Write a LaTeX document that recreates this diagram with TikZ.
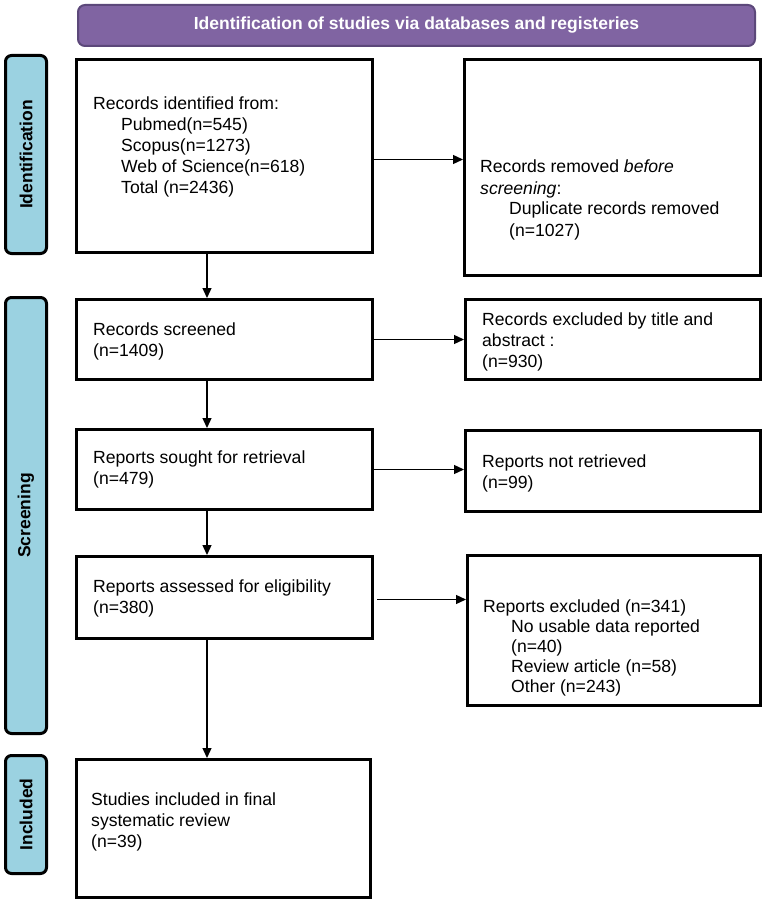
\documentclass[tikz,border=0pt]{standalone}
\usepackage{fontspec}
\setmainfont{Liberation Sans}
\usetikzlibrary{arrows.meta}
\definecolor{bannerfill}{RGB}{128,100,162}
\definecolor{bannerdraw}{RGB}{92,72,122}
\definecolor{sidefill}{RGB}{155,210,225}
\begin{document}
\begin{tikzpicture}[x=1pt,y=-1pt,
  box/.style={draw=black, line width=3pt, fill=white, inner sep=0pt, anchor=north west},
  side/.style={draw=black, line width=3pt, fill=sidefill, rounded corners=6pt, inner sep=0pt, anchor=north west, minimum width=41pt},
  sidetext/.style={rotate=90, font=\fontsize{17.5}{21}\selectfont\bfseries, text=black, inner sep=0pt},
  banner/.style={draw=bannerdraw, line width=2pt, fill=bannerfill, rounded corners=7pt, anchor=north west, text=white, font=\fontsize{17.5}{21}\selectfont\bfseries},
  txt/.style={anchor=base west, inner sep=0pt, font=\fontsize{17.6}{21}\selectfont},
  arr/.style={line width=1.3pt, -{Triangle[length=10pt,width=9pt]}}]
\fill[white] (0,0) rectangle (765,904);
% banner
\node[banner, minimum width=677pt, minimum height=41pt] (ban) at (77,4) {Identification of studies via databases and registeries};
% side labels
\node[side, minimum height=198pt] (sid) at (4,54) {};
\node[sidetext] (sidt) at (sid.center) {Identification};
\node[side, minimum height=436pt] (scr) at (4,296) {};
\node[sidetext] (scrt) at (scr.center) {Screening};
\node[side, minimum height=118pt] (inc) at (4,754) {};
\node[sidetext] (inct) at (inc.center) {Included};
% boxes
\node[box, minimum width=296pt, minimum height=193pt] (b1) at (75,58) {};
\node[box, minimum width=296pt, minimum height=216pt] (b2) at (463,58) {};
\node[box, minimum width=296pt, minimum height=80pt] (b3) at (75,298) {};
\node[box, minimum width=295pt, minimum height=80pt] (b4) at (464,298) {};
\node[box, minimum width=296pt, minimum height=80pt] (b5) at (75,428) {};
\node[box, minimum width=295pt, minimum height=81pt] (b6) at (464,429) {};
\node[box, minimum width=296pt, minimum height=82pt] (b7) at (75,555) {};
\node[box, minimum width=293pt, minimum height=150pt] (b8) at (466,554) {};
\node[box, minimum width=294pt, minimum height=138pt] (b9) at (75,758) {};
% texts
\node[txt] (t1) at (93,110) {\parbox[t]{270pt}{\raggedright Records identified from:\\
  \hspace*{28pt}Pubmed(n=545)\\
  \hspace*{28pt}Scopus(n=1273)\\
  \hspace*{28pt}Web of Science(n=618)\\
  \hspace*{28pt}Total (n=2436)}};
\node[txt] (t2) at (480,173) {\parbox[t]{270pt}{\raggedright Records removed \textit{before}\\
  \textit{screening}:\\
  \hspace*{29pt}Duplicate records removed\\
  \hspace*{29pt}(n=1027)}};
\node[txt] (t3) at (93,335) {\parbox[t]{270pt}{\raggedright Records screened\\(n=1409)}};
\node[txt] (t4) at (482,325) {\parbox[t]{270pt}{\raggedright Records excluded by title and\\abstract :\\(n=930)}};
\node[txt] (t5) at (93,463) {\parbox[t]{270pt}{\raggedright Reports sought for retrieval\\(n=479)}};
\node[txt] (t6) at (482,467) {\parbox[t]{270pt}{\raggedright Reports not retrieved\\(n=99)}};
\node[txt] (t7) at (93,592) {\parbox[t]{270pt}{\raggedright Reports assessed for eligibility\\(n=380)}};
\node[txt, font=\fontsize{17.6}{20}\selectfont] (t8) at (483,612) {\parbox[t]{270pt}{\raggedright Reports excluded (n=341)\\
  \hspace*{28pt}No usable data reported\\
  \hspace*{28pt}(n=40)\\
  \hspace*{28pt}Review article (n=58)\\
  \hspace*{28pt}Other (n=243)}};
\node[txt] (t9) at (91,805) {\parbox[t]{270pt}{\raggedright Studies included in final\\systematic review\\(n=39)}};
% connectors
\coordinate (col) at (207,0);
\draw[arr] ([yshift=-3.5pt]b1.east) -- ([yshift=-3.5pt]b1.east -| b2.west);
\draw[arr] (b3.east) -- (b3.east -| b4.west);
\draw[arr] (b5.east) -- (b5.east -| b6.west);
\draw[arr] ([xshift=3pt,yshift=-2pt]b7.east) -- ([yshift=-2pt]b7.east -| b8.west);
\draw[arr] (b1.south -| col) -- (b3.north -| col);
\draw[arr] (b3.south -| col) -- (b5.north -| col);
\draw[arr] (b5.south -| col) -- (b7.north -| col);
\draw[arr] (b7.south -| col) -- (b9.north -| col);
\end{tikzpicture}
\end{document}
